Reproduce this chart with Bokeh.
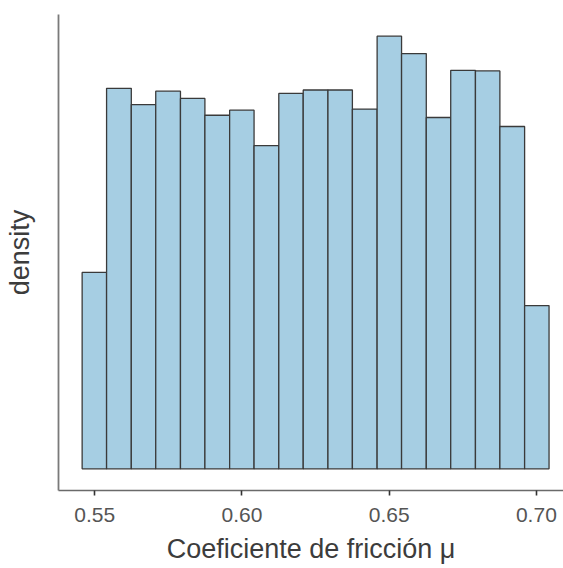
from bokeh.plotting import figure
from bokeh.models import Range1d, FixedTicker, ColumnDataSource
from bokeh.embed import file_html
from bokeh.resources import INLINE

# ---- data ----
bin_edges = [0.5457, 0.5540, 0.5624, 0.5707, 0.5791, 0.5874, 0.5958, 0.6041,
             0.6125, 0.6208, 0.6292, 0.6375, 0.6459, 0.6542, 0.6626, 0.6709,
             0.6793, 0.6876, 0.6960, 0.7043]
density = [3.50, 6.78, 6.49, 6.73, 6.60, 6.30, 6.39, 5.76, 6.69, 6.75,
           6.75, 6.41, 7.71, 7.40, 6.26, 7.10, 7.09, 6.10, 2.91]
x_ticks = [0.55, 0.60, 0.65, 0.70]
x_tick_labels = ["0.55", "0.60", "0.65", "0.70"]
x_title = "Coeficiente de fricción μ"
y_title = "density"

src = ColumnDataSource(dict(left=bin_edges[:-1], right=bin_edges[1:],
                            top=density, bottom=[0] * len(density)))

ymax = max(density)
y0, y1 = -0.05 * ymax, 1.05 * ymax

p = figure(width=563, height=568, output_backend="svg", toolbar_location=None,
           x_range=Range1d(0.53767, 0.70921), y_range=Range1d(y0, y1),
           min_border_left=58, min_border_right=0, min_border_top=14,
           min_border_bottom=78, background_fill_color="white",
           border_fill_color="white")

p.quad(left="left", right="right", top="top", bottom="bottom", source=src,
       fill_color="#a6cee3", line_color="#3a3a3a", line_width=1.3)

p.outline_line_color = None
p.xgrid.grid_line_color = None
p.ygrid.grid_line_color = None

# x axis
p.xaxis.ticker = FixedTicker(ticks=x_ticks)
p.xaxis.major_label_overrides = {t: l for t, l in zip(x_ticks, x_tick_labels)}
p.xaxis.axis_line_color = "#6a6a6a"
p.xaxis.axis_line_width = 1.6
p.xaxis.major_tick_line_color = "#333333"
p.xaxis.major_tick_line_width = 1.6
p.xaxis.major_tick_out = 5
p.xaxis.major_tick_in = 0
p.xaxis.minor_tick_line_color = None
p.xaxis.major_label_standoff = 12
p.xaxis.major_label_text_font = "Liberation Sans"
p.xaxis.major_label_text_font_size = "21px"
p.xaxis.major_label_text_color = "#555555"
p.xaxis.axis_label = x_title
p.xaxis.axis_label_standoff = 9
p.xaxis.axis_label_text_font = "Liberation Sans"
p.xaxis.axis_label_text_font_size = "27px"
p.xaxis.axis_label_text_font_style = "normal"
p.xaxis.axis_label_text_color = "#3c3c3c"

# y axis (line only)
p.yaxis.ticker = FixedTicker(ticks=[])
p.yaxis.axis_line_color = "#7a7a7a"
p.yaxis.axis_line_width = 1.8
p.yaxis.major_tick_line_color = None
p.yaxis.minor_tick_line_color = None
p.yaxis.major_label_text_color = None
p.yaxis.axis_label = y_title
p.yaxis.axis_label_standoff = 24
p.yaxis.axis_label_text_font = "Liberation Sans"
p.yaxis.axis_label_text_font_size = "27px"
p.yaxis.axis_label_text_font_style = "normal"
p.yaxis.axis_label_text_color = "#3c3c3c"

open("out.html", "w").write(file_html(p, INLINE))
